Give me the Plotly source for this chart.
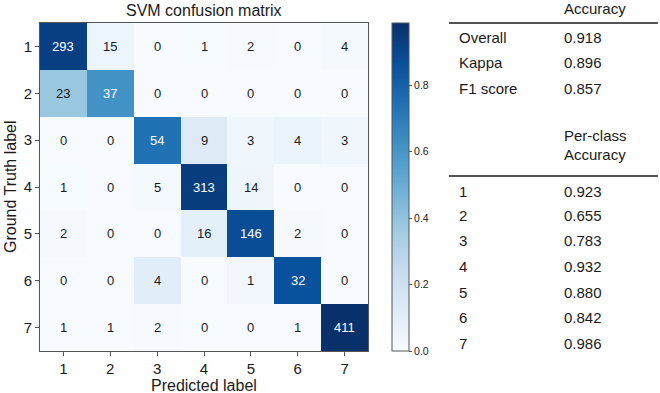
import plotly.graph_objects as go
import plotly.express as px

classes = ["1", "2", "3", "4", "5", "6", "7"]
counts = [
    [293, 15, 0, 1, 2, 0, 4],
    [23, 37, 0, 0, 0, 0, 0],
    [0, 0, 54, 9, 3, 4, 3],
    [1, 0, 5, 313, 14, 0, 0],
    [2, 0, 0, 16, 146, 2, 0],
    [0, 0, 4, 0, 1, 32, 0],
    [1, 1, 2, 0, 0, 1, 411],
]
overall_labels = ["Overall", "Kappa", "F1 score"]
overall_values = ["0.918", "0.896", "0.857"]
perclass_labels = ["1", "2", "3", "4", "5", "6", "7"]
perclass_values = ["0.923", "0.655", "0.783", "0.932", "0.880", "0.842", "0.986"]
cbar_ticks = [0.0, 0.2, 0.4, 0.6, 0.8]

FONT = "Liberation Sans, Arial, sans-serif"
TXT = "#1a1a1a"

pos = list(range(len(classes)))
norm = [[v / sum(row) for v in row] for row in counts]
zmax = max(max(r) for r in norm)
thresh = zmax / 2

L, W, T, H = 40, 328, 23, 328


def px2x(p):
    return (p - L) / W


def px2y(p):
    return 1 - (p - T) / H


fig = go.Figure()
fig.add_trace(go.Heatmap(
    z=norm, x=pos, y=pos,
    colorscale=px.colors.sequential.Blues,
    zmin=0, zmax=zmax,
    showscale=True,
    hoverinfo="skip",
    colorbar=dict(
        x=px2x(392), xanchor="left", xpad=0, y=0.5, yanchor="middle", ypad=0,
        len=1.0, lenmode="fraction", thickness=17,
        outlinewidth=1, outlinecolor="#555555",
        tickvals=cbar_ticks, ticktext=[f"{t:.1f}" for t in cbar_ticks],
        ticks="outside", ticklen=3, tickcolor="#555555",
        tickfont=dict(size=10.5, color=TXT, family=FONT),
    ),
))

annotations = []
for i, row in enumerate(counts):
    for j, v in enumerate(row):
        annotations.append(dict(
            x=pos[j], y=pos[i], xref="x", yref="y",
            text=str(v), showarrow=False,
            font=dict(size=13, family=FONT,
                      color="white" if norm[i][j] > thresh else TXT),
        ))


def txt(x, y, s, size=15, **kw):
    d = dict(x=x, y=y, xref="paper", yref="paper", text=s, showarrow=False,
             xanchor="left", yanchor="middle", font=dict(size=size, family=FONT, color=TXT))
    d.update(kw)
    return d


lab_x = px2x(457)
val_x = px2x(562)
annotations.append(txt(val_x, px2y(8), "Accuracy"))
for lab, val, yy in zip(overall_labels, overall_values, [37, 62, 88]):
    annotations.append(txt(lab_x, px2y(yy), lab))
    annotations.append(txt(val_x, px2y(yy), val))
annotations.append(txt(val_x, px2y(135), "Per-class"))
annotations.append(txt(val_x, px2y(154), "Accuracy"))
for lab, val, yy in zip(perclass_labels, perclass_values, [191, 215, 240, 266, 292, 317, 343]):
    annotations.append(txt(lab_x, px2y(yy), lab))
    annotations.append(txt(val_x, px2y(yy), val))

annotations.append(txt(0.5, px2y(385), "Predicted label", size=16, xanchor="center"))
annotations.append(txt(px2x(10), px2y(187), "Ground Truth label", size=16,
                       xanchor="center", textangle=-90))
annotations.append(txt(0.5, px2y(11), "SVM confusion matrix", size=16, xanchor="center"))

shapes = [
    dict(type="line", xref="paper", yref="paper", x0=px2x(449), x1=px2x(658),
         y0=px2y(23), y1=px2y(23), line=dict(color=TXT, width=1.5)),
    dict(type="line", xref="paper", yref="paper", x0=px2x(449), x1=px2x(658),
         y0=px2y(176), y1=px2y(176), line=dict(color=TXT, width=1.5)),
]

axis_common = dict(showline=True, mirror=True, linecolor="#555555", linewidth=1,
                   ticks="outside", ticklen=4, tickcolor="#555555",
                   tickvals=pos, ticktext=classes, automargin=False,
                   tickfont=dict(size=15, family=FONT, color=TXT),
                   showgrid=False, zeroline=False)

fig.update_layout(
    width=660, height=393,
    margin=dict(l=L, r=660 - L - W, t=T, b=393 - T - H, pad=0, autoexpand=False),
    paper_bgcolor="white", plot_bgcolor="white",
    annotations=annotations, shapes=shapes,
    font=dict(family=FONT, color=TXT),
    xaxis=dict(range=[-0.5, len(classes) - 0.5], **axis_common),
    yaxis=dict(range=[len(classes) - 0.5, -0.5], **axis_common),
)

fig.write_html("out.html", config={"displayModeBar": False},
               post_script="document.body.style.margin='0';document.body.style.padding='0';")
